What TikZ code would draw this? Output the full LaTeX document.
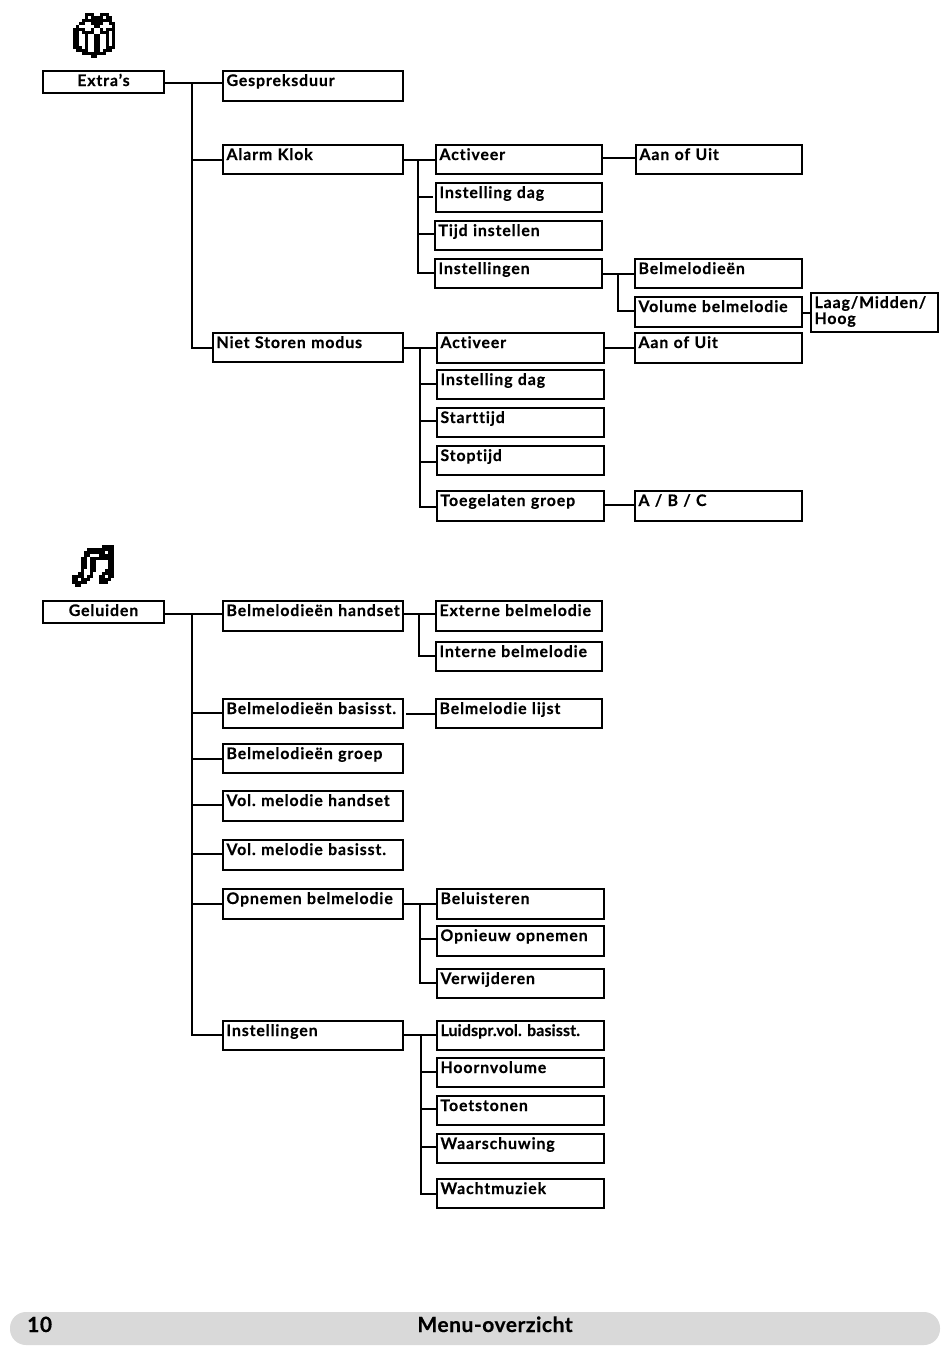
\documentclass[tikz,border=0pt]{standalone}
\usepackage{fontspec}
\setmainfont{Lato}[BoldFont={Lato Bold},BoldFeatures={FakeBold=0.35},LetterSpace=5.5,Ligatures=NoCommon]
\newcount\pxc \newcount\pxr
\newcommand\pxxo{0}\newcommand\pxyo{0}
\def\pxscan#1{\ifx#1\relax\else\if#1X\fill[black] (\the\numexpr\pxxo+3*\pxc\relax,\the\numexpr\pxyo+3*\pxr\relax) rectangle ++(3,3);\fi\advance\pxc by 1 \expandafter\pxscan\fi}
\newcommand\pxrow[1]{\pxc=0 \pxscan#1\relax\advance\pxr by 1 }
\newcommand\bx[7]{%
  \node[menubox,text width=\the\numexpr#4-#2-7\relax pt,text depth=\the\numexpr#5-#3-15\relax pt] (#1) at (#2,#3) {\mbox{#7}};
  \coordinate (#1-l) at (#2,#6);
  \coordinate (#1-r) at (#4,#6);
}
\tikzset{
  menubox/.style={draw=black,line width=1.8pt,fill=white,anchor=north west,inner xsep=3.5pt,inner ysep=0pt,outer sep=0pt,text height=15pt,align=left,font=\fontsize{15.9}{16}\selectfont\bfseries\frenchspacing},
  link/.style={draw=black,line width=1.8pt},
  footertext/.style={font=\fontsize{21}{21}\selectfont\bfseries\addfontfeature{LetterSpace=2.5},inner sep=0pt}
}
\begin{document}
\begin{tikzpicture}[x=1pt,y=-1pt]
\useasboundingbox (0,0) rectangle (950,1368);
\fill[white] (0,0) rectangle (950,1368);
% gift icon
\renewcommand\pxxo{73}\renewcommand\pxyo{13}\pxr=0
\pxrow{....XXX..XXX..}
\pxrow{....X.XXXX.XX.}
\pxrow{...XXXXXXXXXX.}
\pxrow{..XX..XXXX..XX}
\pxrow{.X.....XX....X}
\pxrow{XXXX..X..X.XXX}
\pxrow{XX.XXXX..XXX.X}
\pxrow{XX..X..XX..X.X}
\pxrow{XX..X..XX..X.X}
\pxrow{XX..X..XX..X.X}
\pxrow{XX..X..XX..X.X}
\pxrow{XXX.X..XX..XXX}
\pxrow{.XXXX..XX.XXX.}
\pxrow{...XXXXXXXX...}
\pxrow{......XX......}
% note icon
\renewcommand\pxxo{72}\renewcommand\pxyo{545}\pxr=0
\pxrow{..........XXXX}
\pxrow{.....XXXXXXXXX}
\pxrow{....XXXXXXX.XX}
\pxrow{....XX...XXXXX}
\pxrow{...XX.XXXXXXXX}
\pxrow{...XX.XX....XX}
\pxrow{...XX.XX....XX}
\pxrow{...XX.XX....XX}
\pxrow{...X..XX...XXX}
\pxrow{..XX..X...XXXX}
\pxrow{XXXX.XX..XX.XX}
\pxrow{XX.XXX...XXXX.}
\pxrow{XXXXX....XXX..}
\pxrow{.XX...........}
% Extra's
\bx{extras}{43}{71}{164}{93}{83}{\makebox[114pt][c]{Extra's}}
\bx{gesprek}{223}{71}{403}{101}{83}{Gespreksduur}
\bx{alarm}{223}{145}{403}{174}{160}{Alarm Klok}
\bx{niet}{213}{333}{403}{362}{348}{Niet Storen modus}
\bx{act}{436}{145}{602}{174}{160}{Activeer}
\bx{dag}{436}{183}{602}{212}{197}{Instelling dag}
\bx{tijd}{435}{221}{602}{250}{234}{Tijd instellen}
\bx{inst}{435}{259}{602}{288}{273}{Instellingen}
\bx{aan}{636}{145}{802}{174}{158}{Aan of Uit}
\bx{belm}{635}{259}{802}{288}{274}{Belmelodieën}
\bx{vol}{635}{297}{802}{327}{311}{Volume belmelodie}
\node[menubox,text width=120pt,text depth=24pt] (laag) at (811,293) {Laag/Midden/\\Hoog};
\coordinate (laag-l) at (811,313);
\bx{act2}{437}{333}{604}{363}{348}{Activeer}
\bx{aan2}{635}{333}{802}{363}{348}{Aan of Uit}
\bx{dag2}{437}{370}{604}{399}{384}{Instelling dag}
\bx{start}{437}{408}{604}{437}{421}{Starttijd}
\bx{stop}{437}{446}{604}{475}{462}{Stoptijd}
\bx{toeg}{437}{491}{604}{521}{507}{Toegelaten groep}
\bx{abc}{635}{491}{802}{521}{505}{A / B / C}
% Geluiden
\bx{gel}{43}{601}{164}{623}{614}{\makebox[114pt][c]{Geluiden}}
\bx{bhs}{223}{601}{403}{631}{614}{Belmelodieën handset}
\bx{bbs}{223}{699}{403}{728}{713}{Belmelodieën basisst.}
\bx{bgr}{223}{744}{403}{773}{759}{Belmelodieën groep}
\bx{vhs}{223}{791}{403}{821}{805}{Vol. melodie handset}
\bx{vbs}{223}{840}{403}{870}{854}{Vol. melodie basisst.}
\bx{opn}{223}{889}{403}{919}{904}{Opnemen belmelodie}
\bx{ginst}{223}{1021}{403}{1050}{1035}{Instellingen}
\bx{ext}{436}{601}{602}{631}{614}{Externe belmelodie}
\bx{int}{436}{642}{602}{671}{656}{Interne belmelodie}
\bx{lijst}{436}{699}{602}{728}{714}{Belmelodie lijst}
\bx{bel}{437}{889}{604}{919}{904}{Beluisteren}
\bx{opn2}{437}{926}{604}{956}{939}{Opnieuw opnemen}
\bx{verw}{437}{969}{604}{998}{983}{Verwijderen}
\bx{luid}{437}{1021}{604}{1050}{1035}{\addfontfeature{LetterSpace=1}Luidspr.vol. basisst.}
\bx{hoorn}{437}{1058}{604}{1087}{1072}{Hoornvolume}
\bx{toets}{437}{1096}{604}{1125}{1109}{Toetstonen}
\bx{waar}{437}{1134}{604}{1163}{1147}{Waarschuwing}
\bx{wacht}{437}{1179}{604}{1208}{1194}{Wachtmuziek}
% trunks
\coordinate (t1) at (192,0);
\coordinate (t2) at (418,0);
\coordinate (t3) at (618,0);
\coordinate (t4) at (420,0);
\coordinate (t5) at (419,0);
\coordinate (t6) at (421,0);
% connectors: Extra's
\draw[link] (gesprek-l -| extras.east) -- (gesprek-l);
\draw[link] (t1 |- gesprek-l) |- (niet-l);
\draw[link] (t1 |- alarm-l) -- (alarm-l);
\draw[link] (act-l -| alarm.east) -- (act-l);
\draw[link] (t2 |- act-l) |- (inst-l);
\draw[link,shorten >=3pt] (t2 |- dag-l) -- (dag-l);
\draw[link] (t2 |- tijd-l) -- (tijd-l);
\draw[link] (aan-l -| act.east) -- (aan-l);
\draw[link] (belm-l -| inst.east) -- (belm-l);
\draw[link] (t3 |- belm-l) |- (vol-l);
\draw[link] (laag-l -| vol.east) -- (laag-l);
\draw[link] (act2-l -| niet.east) -- (act2-l);
\draw[link] (t4 |- act2-l) |- (toeg-l);
\draw[link] (t4 |- dag2-l) -- (dag2-l);
\draw[link] (t4 |- start-l) -- (start-l);
\draw[link] (t4 |- stop-l) -- (stop-l);
\draw[link] (aan2-l -| act2.east) -- (aan2-l);
\draw[link] (abc-l -| toeg.east) -- (abc-l);
% connectors: Geluiden
\draw[link] (bhs-l -| gel.east) -- (bhs-l);
\draw[link] (t1 |- bhs-l) |- (ginst-l);
\draw[link] (t1 |- bbs-l) -- (bbs-l);
\draw[link] (t1 |- bgr-l) -- (bgr-l);
\draw[link] (t1 |- vhs-l) -- (vhs-l);
\draw[link] (t1 |- vbs-l) -- (vbs-l);
\draw[link] (t1 |- opn-l) -- (opn-l);
\draw[link] (ext-l -| bhs.east) -- (ext-l);
\draw[link] (t5 |- ext-l) |- (int-l);
\draw[link,shorten <=3pt] (lijst-l -| bbs.east) -- (lijst-l);
\draw[link] (bel-l -| opn.east) -- (bel-l);
\draw[link] (t4 |- bel-l) |- (verw-l);
\draw[link] (t4 |- opn2-l) -- (opn2-l);
\draw[link] (luid-l -| ginst.east) -- (luid-l);
\draw[link] (t6 |- luid-l) |- (wacht-l);
\draw[link] (t6 |- hoorn-l) -- (hoorn-l);
\draw[link] (t6 |- toets-l) -- (toets-l);
\draw[link] (t6 |- waar-l) -- (waar-l);
% footer
\fill[black!15,rounded corners=16pt] (10,1312) rectangle (940,1345);
\node[footertext,anchor=base west] (pageno) at (27,1332) {10};
\node[footertext,anchor=base] (footer) at (495,1332) {Menu-overzicht};
\end{tikzpicture}
\end{document}
